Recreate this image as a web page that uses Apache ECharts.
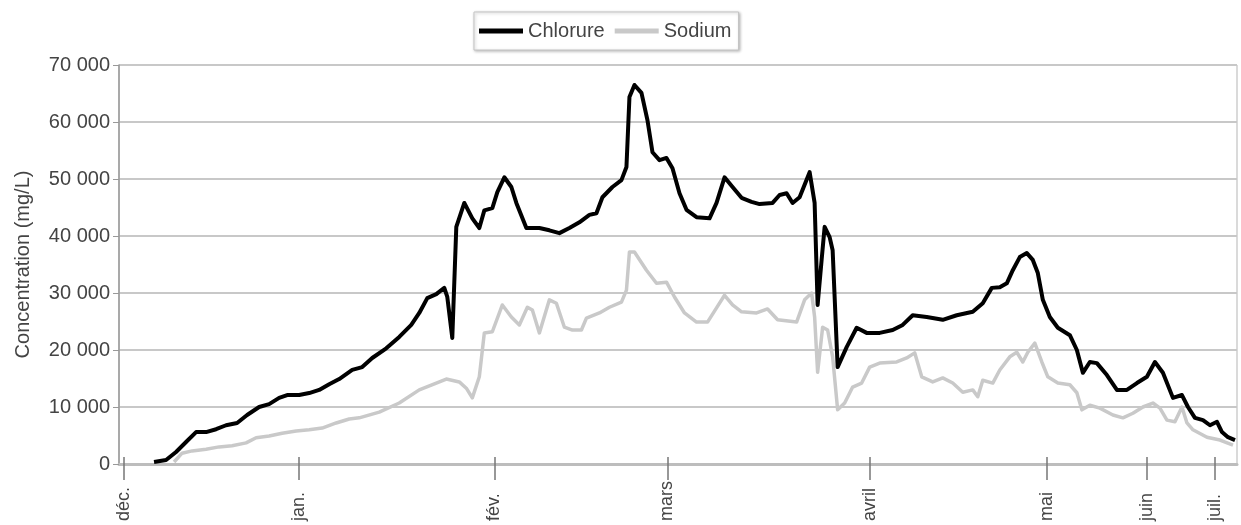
<!DOCTYPE html>
<html>
<head>
<meta charset="utf-8">
<script src="https://cdn.jsdelivr.net/npm/echarts@6/dist/echarts.min.js"></script>
<style>
html,body{margin:0;padding:0;background:#fff;}
#chart{width:1241px;height:525px;}
</style>
</head>
<body>
<div id="chart"></div>
<script>
// x = sample position index (measurement order)
var monthLabels = ['déc.', 'jan.', 'fév.', 'mars', 'avril', 'mai', 'juin', 'juil.'];
var monthPos = [1, 36, 75, 109.6, 150, 185.4, 205.4, 219];
var yTicks = [0, 10000, 20000, 30000, 40000, 50000, 60000, 70000];

var chlX = [7,9.4,11.4,13.4,15.4,17.4,19.4,21.4,23.6,25.6,28,30,32,33.6,36,38,40,42,44,46.6,48.6,50.6,53.4,56,58.4,60,61.6,63.4,65,65.6,66.6,67.4,69,70.6,72,73,74.6,75.6,77,78.4,79.4,81.4,84,86,88,90,92,94,95.4,96.6,98.6,100.4,101.4,102,103,104.4,105.6,106.6,108,109.4,110.6,112,113.4,115.4,118,119.4,121,122.6,124.4,126.4,128,130.6,132,133.4,134.6,136,138,139,139.6,140.4,141,142,142.6,143.6,145.4,147.4,149.4,152,154.6,156.6,158.6,161.4,164.6,167.4,170.6,172.6,174.4,176,177.4,178.6,180,181.4,182.6,183.6,184.6,186,187.6,190,191.4,192.6,194,195.4,197.4,199.4,201.4,203.4,205.4,207,208.6,210.6,212.4,213.6,215,216.6,218,219.4,220.4,221.6,223];
var chlY = [350,700,2100,3860,5600,5600,6100,6800,7200,8600,10000,10500,11600,12100,12100,12450,13000,14000,14900,16500,17000,18600,20300,22300,24400,26500,29100,29800,30900,29300,22100,41600,45800,43100,41400,44500,44900,47700,50300,48600,45800,41400,41400,41000,40500,41400,42400,43700,44000,46800,48600,49800,52100,64400,66500,65100,60300,54700,53300,53700,51900,47500,44600,43300,43100,45800,50300,48600,46700,46000,45600,45800,47200,47500,45800,46800,51200,45800,27900,35800,41600,39800,37500,17000,20500,23900,23000,23000,23500,24400,26100,25800,25300,26100,26700,28200,30900,31000,31700,34000,36300,37000,35800,33500,28800,25800,23900,22600,20000,16000,17900,17700,15600,13000,13000,14200,15300,17900,16000,11600,12100,10000,8100,7700,6800,7400,5600,4700,4200];

var sodX = [11,12.6,14.6,17.4,20,22.6,25.4,27.4,30,32.6,35.4,38,40.6,43.4,46,48,52,56,60,63.4,65.4,68,69.4,70.6,72,73,74.6,76.6,78.4,80,81.6,82.6,84,86,87.4,89,90.6,92.4,93.4,96,98,100.4,101.4,102,103,105.4,107.4,109.4,111,113,115.4,117.6,119.4,121,122.6,124.4,127.4,129.6,131.6,135.4,137,138.4,139,139.6,140.6,141.6,142.6,143.6,145,146.6,148.4,150,152,155.4,157.4,159,160.4,162.6,164.6,166.6,168.6,170.6,171.6,172.6,174.6,176,178,179.4,180.6,181.6,183,184.4,185.6,187.6,190,191.4,192.4,194,196,198.6,200.6,202.6,204.6,206.6,208,209.4,211,212.4,213.4,214.6,217.4,220,222.6];
var sodY = [350,1900,2300,2600,3000,3200,3700,4600,4900,5400,5800,6000,6300,7200,7900,8100,9100,10700,13000,14200,14900,14400,13300,11600,15300,23000,23200,27900,25800,24400,27500,27000,23000,28800,28200,24000,23500,23500,25600,26500,27500,28400,30500,37200,37200,34000,31700,31900,29300,26500,24900,24900,27400,29600,27900,26700,26500,27200,25300,24900,28800,30000,25800,16100,24000,23500,18800,9500,10700,13500,14200,17000,17700,17900,18600,19500,15300,14400,15100,14200,12600,13000,11800,14700,14200,16500,18800,19600,17900,19600,21200,17900,15300,14200,13900,12500,9500,10300,9800,8600,8100,8900,10000,10700,9800,7700,7400,10000,7200,6000,4700,4200,3300];

function pairs(xs, ys) { return xs.map(function (x, i) { return [x, ys[i]]; }); }
function fmtThousands(v) { return String(v).replace(/\B(?=(\d{3})+(?!\d))/g, ' '); }

var FONT = "'Liberation Sans', Arial, sans-serif";
var chart = echarts.init(document.getElementById('chart'), null, { renderer: 'canvas' });
chart.setOption({
  animation: false,
  backgroundColor: '#ffffff',
  textStyle: { fontFamily: FONT },
  grid: { left: 119, right: 4, top: 65, bottom: 61, containLabel: false, outerBoundsMode: 'none',
    show: true, borderColor: '#b5b5b5', borderWidth: 1 },
  legend: {
    left: 474, top: 12,
    padding: [9, 7, 9, 5],
    itemGap: 10,
    itemWidth: 44, itemHeight: 5,
    icon: 'rect',
    backgroundColor: '#fff',
    borderColor: '#c4c4c4', borderWidth: 1,
    shadowColor: 'rgba(0,0,0,0.25)', shadowBlur: 3, shadowOffsetX: 1, shadowOffsetY: 1,
    textStyle: { fontSize: 20, color: '#444', fontFamily: FONT },
    data: ['Chlorure', 'Sodium']
  },
  xAxis: [{
    type: 'value', min: 0, max: 223.4,
    axisLine: { show: true, lineStyle: { color: '#bdbdbd', width: 3 } },
    axisTick: { show: true, customValues: monthPos, length: 16, lineStyle: { color: '#777', width: 1.5 } },
    axisLabel: {
      customValues: monthPos, rotate: 90, margin: 57, align: 'left', fontSize: 18, color: '#444', fontFamily: FONT,
      formatter: function (v) { var i = monthPos.indexOf(v); return i >= 0 ? monthLabels[i] : ''; }
    },
    splitLine: { show: false }
  }, {
    type: 'value', min: 0, max: 223.4, position: 'bottom',
    axisLine: { show: false },
    axisTick: { show: true, inside: true, customValues: monthPos, length: 7, lineStyle: { color: '#777', width: 1.5 } },
    axisLabel: { show: false },
    splitLine: { show: false }
  }],
  yAxis: {
    type: 'value', min: 0, max: 70000, interval: 10000,
    name: 'Concentration (mg/L)', nameLocation: 'middle', nameGap: 86,
    nameTextStyle: { fontSize: 20, color: '#444', fontFamily: FONT },
    axisLine: { show: true, lineStyle: { color: '#999', width: 1.5 } },
    axisTick: { show: true, length: 6, lineStyle: { color: '#999' } },
    axisLabel: { fontSize: 20, color: '#444', margin: 9, fontFamily: FONT,
      formatter: function (v) { return yTicks.indexOf(v) >= 0 ? fmtThousands(v) : ''; } },
    splitLine: { show: true, lineStyle: { color: '#c8c8c8', width: 2 } }
  },
  series: [{
    name: 'Chlorure', type: 'line', data: pairs(chlX, chlY), showSymbol: false, symbol: 'none',
    z: 4, lineStyle: { color: '#000', width: 4, join: 'round' }, itemStyle: { color: '#000' }
  }, {
    name: 'Sodium', type: 'line', data: pairs(sodX, sodY), showSymbol: false, symbol: 'none',
    z: 3, lineStyle: { color: '#c9c9c9', width: 3.5, join: 'round' }, itemStyle: { color: '#c9c9c9' }
  }]
});
</script>
</body>
</html>
